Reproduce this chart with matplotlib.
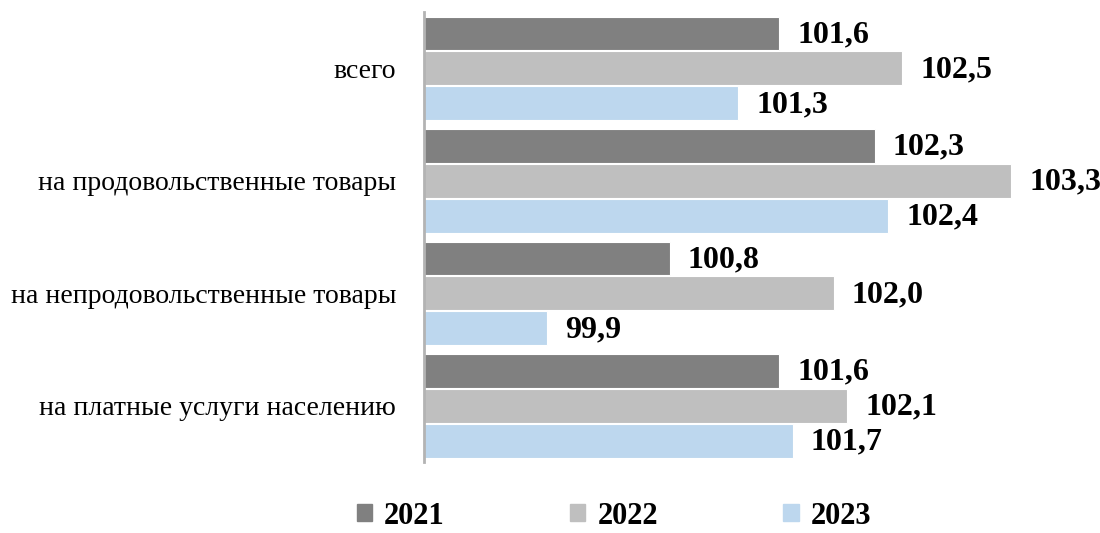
import matplotlib
matplotlib.use('Agg')
import matplotlib.pyplot as plt
from matplotlib.patches import Patch

plt.rcParams['font.family'] = ['Liberation Serif', 'DejaVu Serif']

# Data
categories = ['всего', 'на продовольственные товары',
              'на непродовольственные товары', 'на платные услуги населению']
years = ['2021', '2022', '2023']
values_2021 = [101.6, 102.3, 100.8, 101.6]
values_2022 = [102.5, 103.3, 102.0, 102.1]
values_2023 = [101.3, 102.4, 99.9, 101.7]
colors = ['#808080', '#bfbfbf', '#bdd7ee']

series = [values_2021, values_2022, values_2023]
offsets = [-0.31, 0.0, 0.31]
base = 99.0

fig = plt.figure(figsize=(11, 5.33), dpi=100)
ax = fig.add_axes([424 / 1100, 71 / 533, 676 / 1100, 450 / 533])

for vals, off, col in zip(series, offsets, colors):
    ys = [i + off for i in range(len(categories))]
    widths = [v - base for v in vals]
    ax.barh(ys, widths, left=base, height=0.30, color=col,
            edgecolor='white', linewidth=0.8)
    for y, v in zip(ys, vals):
        ax.annotate(f'{v:.1f}'.replace('.', ','), xy=(v, y),
                    xytext=(13, -1), textcoords='offset points',
                    ha='left', va='center', fontsize=23, fontweight='bold')

ax.set_xlim(99, 103.95)
ax.set_ylim(3.5, -0.5)
ax.set_yticks(range(len(categories)))
ax.set_yticklabels(categories, fontsize=20)
ax.tick_params(axis='y', length=0, pad=20)
ax.set_xticks([])
for s in ['top', 'right', 'bottom']:
    ax.spines[s].set_visible(False)
ax.spines['left'].set_color('#b3b3b3')
ax.spines['left'].set_linewidth(2)

handles = [Patch(color=c, label=y) for c, y in zip(colors, years)]
fig.legend(handles=handles, loc='center', bbox_to_anchor=(614 / 1100, 1 - 516 / 533),
           ncol=3, frameon=False, handlelength=0.5, handleheight=0.5,
           handletextpad=0.4, columnspacing=4.1,
           prop={'size': 22, 'weight': 'bold'})

fig.savefig('out.png', dpi=100)
